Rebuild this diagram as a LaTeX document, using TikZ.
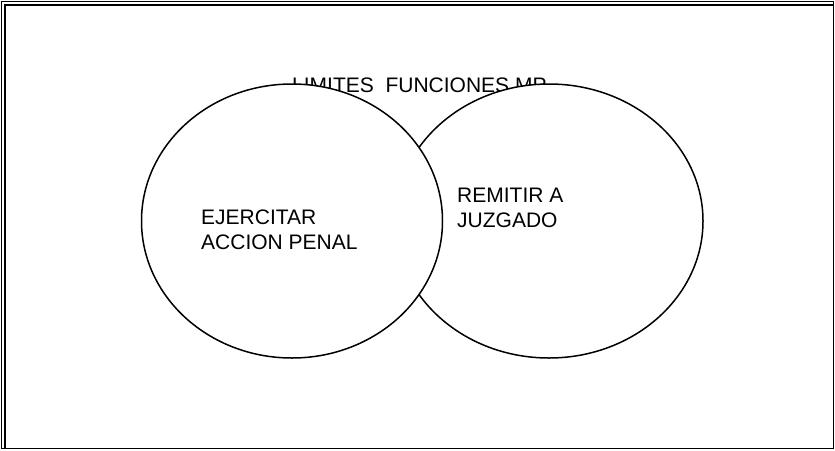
\documentclass[tikz,border=0pt]{standalone}
\usepackage{fontspec}
\setmainfont{Liberation Sans}
\usepackage{tikz}
\usetikzlibrary{shapes.geometric}

\tikzset{
  conjunto/.style={draw, ellipse, fill=white, line width=1.5pt, inner sep=0pt},
  rotulo/.style={inner sep=0pt, align=left, font=\fontsize{21}{24.5}\selectfont}
}

\begin{document}
\begin{tikzpicture}[x=1pt, y=-1pt]
            \useasboundingbox (0,0) rectangle (835,450);
            % Marco doble
            \draw[line width=1.6pt] (1.6,1.6) rectangle (833.6,448.6);
            \draw[line width=1.6pt] (5,448.6) -- (5,5) -- (833.6,5);
            
            % Titulo
            \node[rotulo, anchor=base west] (limites) at (292,92) {LIMITES\ \ FUNCIONES MP};
            
            % Conjuntos
            \node[conjunto, minimum width=308pt, minimum height=274pt] (remitir) at (549,221) {};
            \node[conjunto, minimum width=301pt, minimum height=274pt] (ejercer) at (292,221) {};
            
            % Textos
            \node[rotulo, anchor=north west] (penal) at (201,210) {EJERCITAR\\ACCION PENAL};
            \node[rotulo, anchor=north west] (juzgado) at (457,188) {REMITIR A\\JUZGADO};
        \end{tikzpicture}
\end{document}
